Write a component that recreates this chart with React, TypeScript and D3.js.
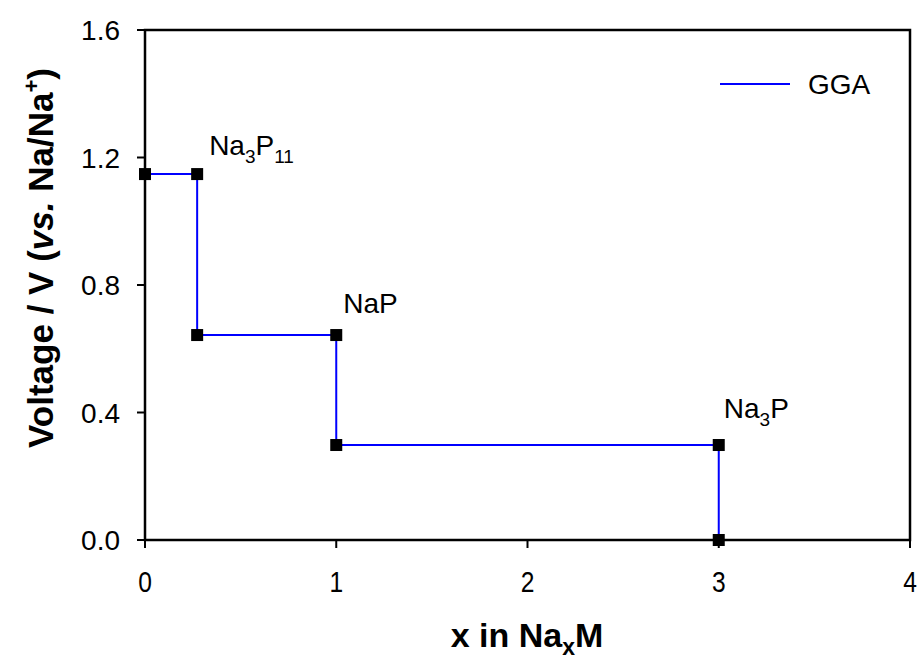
import React from "react";
import * as d3 from "d3";

// Sodium content x in Na_xM and the computed voltage plateaus (GGA)
const xValues = [0, 0.2727, 0.2727, 1, 1, 3, 3];
const voltages = [1.148, 1.148, 0.643, 0.643, 0.298, 0.298, 0];
const xTicks = [0, 1, 2, 3, 4];
const yTicks = [0, 0.4, 0.8, 1.2, 1.6];

// Phase labels anchored at a point index; parts are [text, isSubscript]
const phaseLabels: { idx: number; dx: number; dy: number; parts: [string, boolean][] }[] = [
  { idx: 1, dx: 12, dy: -19, parts: [["Na", false], ["3", true], ["P", false], ["11", true]] },
  { idx: 3, dx: 7, dy: -22, parts: [["NaP", false]] },
  { idx: 5, dx: 5, dy: -27, parts: [["Na", false], ["3", true], ["P", false]] },
];
const seriesName = "GGA";

const W = 922;
const H = 659;
const M = { left: 145, right: 910, top: 30, bottom: 540 };

export default function App() {
  const x = d3.scaleLinear().domain([0, 4]).range([M.left, M.right]);
  const y = d3.scaleLinear().domain([0, 1.6]).range([M.bottom, M.top]);
  const pts = xValues.map((v, i) => [v, voltages[i]] as [number, number]);
  const line = d3
    .line<[number, number]>()
    .x((d) => x(d[0]))
    .y((d) => y(d[1]));
  const font = "Arial, 'Liberation Sans', sans-serif";
  const tick = 8;
  const labelSize = 28;
  const subSize = 19;

  return (
    <svg
      width={W}
      height={H}
      style={{ position: "absolute", left: 0, top: 0, background: "#fff" }}
    >
      {/* frame */}
      <rect
        x={M.left}
        y={M.top}
        width={M.right - M.left}
        height={M.bottom - M.top}
        fill="none"
        stroke="#000"
        strokeWidth={2.5}
      />
      {/* y axis ticks */}
      {yTicks.map((t) => (
        <g key={"y" + t}>
          <line x1={M.left - tick} x2={M.left} y1={y(t)} y2={y(t)} stroke="#000" strokeWidth={2} />
          <text
            x={M.left - 25}
            y={y(t)}
            dy="0.36em"
            textAnchor="end"
            fontFamily={font}
            fontSize={28}
          >
            {t.toFixed(1)}
          </text>
        </g>
      ))}
      {/* x axis ticks */}
      {xTicks.map((t) => (
        <g key={"x" + t}>
          <line x1={x(t)} x2={x(t)} y1={M.bottom} y2={M.bottom + tick} stroke="#000" strokeWidth={2} />
          <text
            transform={`translate(${x(t)}, ${M.bottom + 52}) scale(0.82, 1)`}
            textAnchor="middle"
            fontFamily={font}
            fontSize={30}
          >
            {t}
          </text>
        </g>
      ))}
      {/* axis titles */}
      <text
        x={527}
        y={647}
        textAnchor="middle"
        fontFamily={font}
        fontWeight="bold"
        fontSize={34}
      >
        x in Na
        <tspan fontSize={23} dy={8}>x</tspan>
        <tspan dy={-8}>M</tspan>
      </text>
      <text
        transform={`translate(53, 258) rotate(-90)`}
        textAnchor="middle"
        fontFamily={font}
        fontWeight="bold"
        fontSize={35}
      >
        Voltage / V (<tspan fontStyle="italic">vs.</tspan> Na/Na
        <tspan fontSize={22} dy={-14}>+</tspan>
        <tspan dy={14}>)</tspan>
      </text>
      {/* step curve */}
      <path d={line(pts) ?? ""} fill="none" stroke="#0000ff" strokeWidth={2} />
      {pts.map((d, i) => (
        <rect
          key={"m" + i}
          x={x(d[0]) - 6}
          y={y(d[1]) - 6}
          width={12}
          height={12}
          fill="#000"
        />
      ))}
      {/* phase labels */}
      {phaseLabels.map((lab, k) => {
        const p = pts[lab.idx];
        let prevSub = false;
        return (
          <text
            key={"l" + k}
            x={x(p[0]) + lab.dx}
            y={y(p[1]) + lab.dy}
            fontFamily={font}
            fontSize={labelSize}
          >
            {lab.parts.map(([s, sub], j) => {
              const dy = sub && !prevSub ? 8 : !sub && prevSub ? -8 : 0;
              prevSub = sub;
              return (
                <tspan key={j} dy={dy} fontSize={sub ? subSize : labelSize}>
                  {s}
                </tspan>
              );
            })}
          </text>
        );
      })}
      {/* legend */}
      <line x1={720} x2={790} y1={84} y2={84} stroke="#0000ff" strokeWidth={2} />
      <text x={808} y={94} fontFamily={font} fontSize={labelSize}>
        {seriesName}
      </text>
    </svg>
  );
}
